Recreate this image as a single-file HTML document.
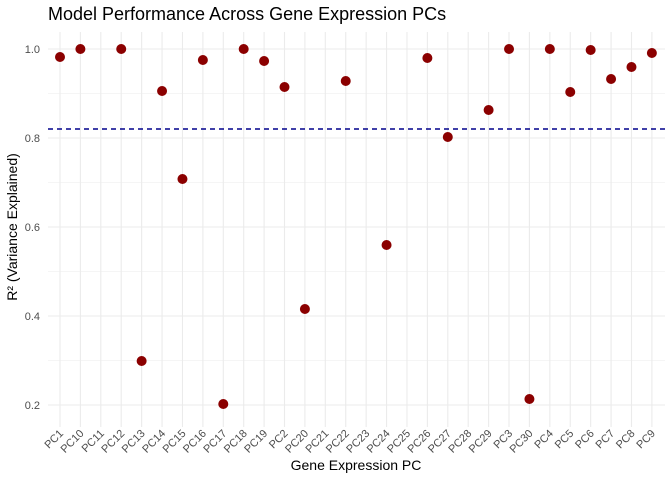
<!DOCTYPE html>
<html><head><style>body{margin:0;background:#fff}svg{display:block;font-family:"Liberation Sans",sans-serif}</style></head>
<body>
<svg width="672" height="480" xmlns="http://www.w3.org/2000/svg">
<rect width="672" height="480" fill="#fff"/>
<g stroke="#ebebeb" stroke-width="0.6">
<line x1="48" x2="665" y1="360.5" y2="360.5"/><line x1="48" x2="665" y1="271.5" y2="271.5"/>
<line x1="48" x2="665" y1="182.5" y2="182.5"/><line x1="48" x2="665" y1="93.5" y2="93.5"/>
</g>
<g stroke="#ebebeb" stroke-width="1.1">
<line x1="48" x2="665" y1="405" y2="405"/><line x1="48" x2="665" y1="316" y2="316"/>
<line x1="48" x2="665" y1="227" y2="227"/><line x1="48" x2="665" y1="138" y2="138"/>
<line x1="48" x2="665" y1="49" y2="49"/>
</g>
<g id="vg" stroke="#ebebeb" stroke-width="1.1"></g>
<line x1="48" x2="665" y1="129" y2="129" stroke="#00008b" stroke-width="1.4" stroke-dasharray="5,4"/>
<g font-size="11" fill="#4d4d4d" text-anchor="end">
<text x="40" y="409">0.2</text><text x="40" y="320">0.4</text><text x="40" y="231">0.6</text><text x="40" y="142">0.8</text><text x="40" y="53">1.0</text>
</g>
<g id="pts" fill="#8b0000"></g>
<g id="xl" font-size="11" fill="#4d4d4d" text-anchor="end"></g>
<text x="48" y="20" font-size="18" fill="#000">Model Performance Across Gene Expression PCs</text>
<text x="356" y="470" font-size="14" text-anchor="middle" fill="#000">Gene Expression PC</text>
<text transform="translate(17,227) rotate(-90)" font-size="14" text-anchor="middle" fill="#000">R² (Variance Explained)</text>
<script>
var names=["PC1","PC10","PC11","PC12","PC13","PC14","PC15","PC16","PC17","PC18","PC19","PC2","PC20","PC21","PC22","PC23","PC24","PC25","PC26","PC27","PC28","PC29","PC3","PC30","PC4","PC5","PC6","PC7","PC8","PC9"];
var ys=[57,49,null,49,361,91,179,60,404,49,61,87,309,null,81,null,245,null,58,137,null,110,49,399,49,92,50,79,67,53];
var ns="http://www.w3.org/2000/svg",vg=document.getElementById("vg"),pts=document.getElementById("pts"),xl=document.getElementById("xl");
for(var i=0;i<30;i++){var x=60+i*20.41;
var l=document.createElementNS(ns,"line");l.setAttribute("x1",x);l.setAttribute("x2",x);l.setAttribute("y1",32);l.setAttribute("y2",427);vg.appendChild(l);
if(ys[i]!==null){var c=document.createElementNS(ns,"circle");c.setAttribute("cx",x);c.setAttribute("cy",ys[i]);c.setAttribute("r",5);pts.appendChild(c);}
var t=document.createElementNS(ns,"text");t.setAttribute("transform","translate("+(x+4)+",434) rotate(-45)");t.textContent=names[i];xl.appendChild(t);}
</script>
</svg>
</body></html>
